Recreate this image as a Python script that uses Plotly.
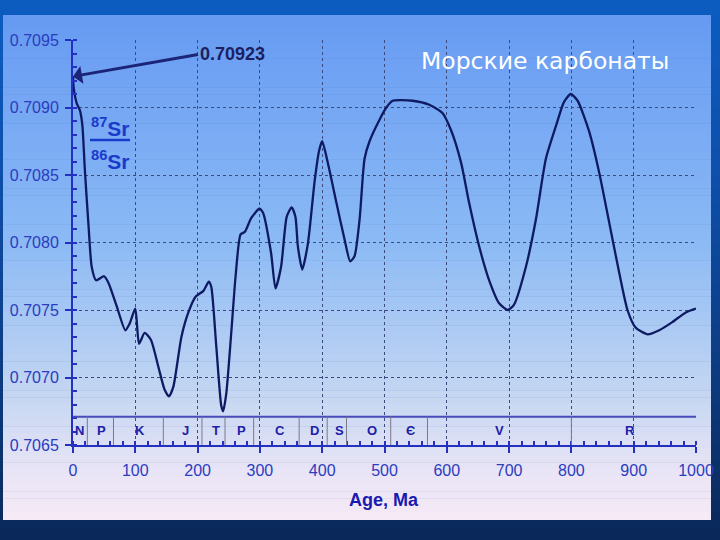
import plotly.graph_objects as go

# ---- data ----
age_ma = [0, 1, 6, 11, 15, 19, 25, 30, 37, 50, 57, 70, 84, 91, 100, 106, 115, 125, 137, 147,
          154, 161, 174, 185, 197, 209, 218, 222, 230, 238, 241, 246, 254, 261, 269, 276, 286,
          299, 305, 318, 325, 334, 343, 351, 357, 361, 368, 377, 388, 395, 400, 409, 423, 436,
          445, 452, 460, 468, 476, 492, 503, 513, 545, 572, 593, 607, 623, 636, 652, 668, 684,
          698, 708, 727, 743, 759, 775, 788, 799, 810, 828, 845, 861, 877, 890, 903, 922, 941,
          962, 983, 1000]
sr_ratio = [0.70923, 0.70915, 0.70903, 0.70898, 0.70887, 0.70854, 0.70812, 0.70782, 0.70772,
            0.70775, 0.70770, 0.70753, 0.70735, 0.70740, 0.70751, 0.70725, 0.70733, 0.70728,
            0.70708, 0.70691, 0.70686, 0.70693, 0.70730, 0.70748, 0.70760, 0.70764, 0.70771,
            0.70767, 0.70723, 0.70679, 0.70675, 0.70688, 0.70733, 0.70775, 0.70806, 0.70808,
            0.70818, 0.70825, 0.70822, 0.70792, 0.70766, 0.70782, 0.70819, 0.70826, 0.70819,
            0.70797, 0.70780, 0.70799, 0.70846, 0.70868, 0.70875, 0.70859, 0.70829, 0.70802,
            0.70786, 0.70790, 0.70817, 0.70862, 0.70875, 0.70891, 0.70900, 0.70905, 0.70905,
            0.70902, 0.70896, 0.70883, 0.70859, 0.70829, 0.70797, 0.70772, 0.70755, 0.70750,
            0.70754, 0.70782, 0.70817, 0.70862, 0.70886, 0.70904, 0.70910, 0.70905, 0.70883,
            0.70851, 0.70814, 0.70777, 0.70750, 0.70737, 0.70732, 0.70735, 0.70741, 0.70748,
            0.70751]

period_bounds = [23, 65, 145, 207, 244, 290, 363, 408, 439, 510, 569, 800]
period_labels = ["N", "P", "K", "J", "T", "P", "C", "D", "S", "O", "Є", "V", "R"]
period_label_pos = [10, 45, 108, 180, 229, 270, 332, 388, 427, 480, 541, 684, 894]

x_ticks = [0, 100, 200, 300, 400, 500, 600, 700, 800, 900, 1000]
y_ticks = [0.7065, 0.7070, 0.7075, 0.7080, 0.7085, 0.7090, 0.7095]
y_tick_text = ["0.7065", "0.7070", "0.7075", "0.7080", "0.7085", "0.7090", "0.7095"]

modern_value = 0.70923
title_text = "Морские карбонаты"
x_title = "Age, Ma"

# ---- styling ----
W, H = 720, 540
AXIS_BLUE = "#2430c0"
LABEL_BLUE = "#2b3cbe"
CURVE = "#0e1a62"
band_top = 0.70671


def lerp(c1, c2, t):
    return tuple(int(round(a + (b - a) * t)) for a, b in zip(c1, c2))


def grad(stops, t):
    for i in range(len(stops) - 1):
        t0, c0 = stops[i]
        t1, c1 = stops[i + 1]
        if t0 <= t <= t1:
            return lerp(c0, c1, (t - t0) / (t1 - t0) if t1 > t0 else 0)
    return stops[-1][1]


l, r, t_m, b = 73, 24, 40, 95
pw, ph = W - l - r, H - t_m - b


def px2x(px):
    return (px - l) / pw


def py2y(py):
    return 1 - (py - t_m) / ph


shapes = []
# outer background bands (whole canvas)
outer_stops = [(0.0, (12, 92, 192)), (0.35, (14, 78, 168)), (0.75, (12, 56, 120)), (1.0, (10, 40, 88))]
n = 40
for i in range(n):
    t = (i + 0.5) / n
    c = grad(outer_stops, t)
    y_a = H * i / n
    y_b = H * (i + 1) / n
    shapes.append(dict(type="rect", xref="paper", yref="paper",
                       x0=px2x(-5), x1=px2x(W + 5), y0=py2y(y_b + 0.5), y1=py2y(y_a),
                       fillcolor="rgb(%d,%d,%d)" % c, line_width=0, layer="below"))

# panel gradient
panel_stops = [(0.0, (102, 154, 242)), (0.45, (140, 186, 245)), (0.75, (196, 214, 242)),
               (0.9, (232, 228, 246)), (1.0, (246, 234, 246))]
p_top, p_bot, p_left, p_right = 15, 520, 3, 711
m = 70
for i in range(m):
    tt = (i + 0.5) / m
    c = grad(panel_stops, tt)
    y_a = p_top + (p_bot - p_top) * i / m
    y_b = p_top + (p_bot - p_top) * (i + 1) / m
    shapes.append(dict(type="rect", xref="paper", yref="paper",
                       x0=px2x(p_left), x1=px2x(p_right),
                       y0=py2y(min(y_b + 0.5, p_bot)), y1=py2y(y_a),
                       fillcolor="rgb(%d,%d,%d)" % c, line_width=0, layer="below"))

# period band top line and dividers
shapes.append(dict(type="line", xref="x", yref="y", x0=0, x1=1000, y0=band_top, y1=band_top,
                   line=dict(color="#4a4ab8", width=2), layer="above"))
for xb in period_bounds:
    shapes.append(dict(type="line", xref="x", yref="y", x0=xb, x1=xb, y0=0.7065, y1=band_top,
                       line=dict(color="#7a7a8a", width=1), layer="above"))
# fraction bar of 87Sr/86Sr
shapes.append(dict(type="line", xref="paper", yref="paper", x0=px2x(90), x1=px2x(130),
                   y0=py2y(140), y1=py2y(140), line=dict(color="#1a3acc", width=2.5)))

fig = go.Figure()
fig.add_trace(go.Scatter(x=age_ma, y=sr_ratio, mode="lines",
                         line=dict(color=CURVE, width=2.3, shape="spline", smoothing=0.6),
                         hoverinfo="skip", showlegend=False))

annotations = []
for lab, xp in zip(period_labels, period_label_pos):
    annotations.append(dict(x=xp, y=0.70661, xref="x", yref="y", text="<b>%s</b>" % lab,
                            showarrow=False, xanchor="center", yanchor="middle",
                            font=dict(family="Liberation Sans", size=13, color="#2020a8")))

annotations.append(dict(x=0, y=modern_value, xref="x", yref="y", text="<b>0.70923</b>",
                        showarrow=True, ax=125, ay=-22, axref="pixel", ayref="pixel",
                        xanchor="left", yanchor="middle",
                        arrowhead=1, arrowsize=1.0, arrowwidth=3, arrowcolor="#1c2478",
                        font=dict(family="Liberation Sans", size=18, color="#1c2060")))
annotations.append(dict(x=px2x(110), y=py2y(127), xref="paper", yref="paper",
                        text="<b><sup>87</sup>Sr</b>", showarrow=False,
                        xanchor="center", yanchor="middle",
                        font=dict(family="Liberation Sans", size=21, color="#1a3acc")))
annotations.append(dict(x=px2x(110), y=py2y(160), xref="paper", yref="paper",
                        text="<b><sup>86</sup>Sr</b>", showarrow=False,
                        xanchor="center", yanchor="middle",
                        font=dict(family="Liberation Sans", size=21, color="#1a3acc")))
annotations.append(dict(x=px2x(545), y=py2y(61), xref="paper", yref="paper",
                        text=title_text, showarrow=False,
                        xanchor="center", yanchor="middle",
                        font=dict(family="DejaVu Sans", size=23.5, color="white")))
annotations.append(dict(x=px2x(384), y=py2y(500), xref="paper", yref="paper",
                        text="<b>%s</b>" % x_title, showarrow=False,
                        xanchor="center", yanchor="middle",
                        font=dict(family="Liberation Sans", size=18, color="#1a1ab0")))

fig.update_layout(
    width=W, height=H,
    margin=dict(l=l, r=r, t=t_m, b=b, autoexpand=False),
    paper_bgcolor="#0c4fa8",
    plot_bgcolor="rgba(0,0,0,0)",
    shapes=shapes,
    annotations=annotations,
    showlegend=False,
)
fig.update_xaxes(range=[0, 1000], tickvals=x_ticks, ticktext=[str(v) for v in x_ticks],
                 automargin=False,
                 showgrid=True, gridcolor="#3c4a7c", griddash="dot", gridwidth=1,
                 showline=True, linecolor=AXIS_BLUE, linewidth=2,
                 ticks="outside", ticklen=6, tickwidth=2, tickcolor=AXIS_BLUE,
                 minor=dict(dtick=20, ticks="inside", ticklen=4, tickwidth=2, tickcolor=AXIS_BLUE, showgrid=False),
                 tickfont=dict(family="Liberation Sans", size=16, color=LABEL_BLUE),
                 ticklabelstandoff=4, zeroline=False)
fig.update_yaxes(range=[0.7065, 0.7095], tickvals=y_ticks, ticktext=y_tick_text,
                 automargin=False,
                 showgrid=True, gridcolor="#3c4a7c", griddash="dot", gridwidth=1,
                 showline=True, linecolor=AXIS_BLUE, linewidth=2,
                 ticks="outside", ticklen=6, tickwidth=2, tickcolor=AXIS_BLUE,
                 minor=dict(dtick=0.0001, tick0=0.7065, ticks="inside", ticklen=4, tickwidth=2,
                            tickcolor=AXIS_BLUE, showgrid=False),
                 tickfont=dict(family="Liberation Sans", size=16, color=LABEL_BLUE),
                 ticklabelstandoff=3, zeroline=False)

fig.write_html("out.html")
